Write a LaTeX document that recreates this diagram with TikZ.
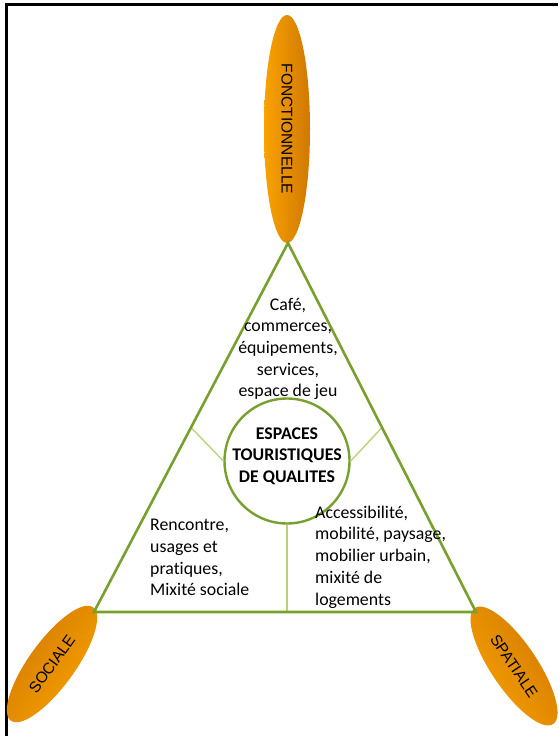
\documentclass[tikz,border=0pt]{standalone}
\usepackage{fontspec}
\setmainfont{Carlito}[Ligatures=NoCommon]
\newfontfamily\arialfont{Liberation Sans}
\usetikzlibrary{shapes.geometric,calc}
\definecolor{trigreen}{HTML}{77A02E}
\definecolor{spokegreen}{HTML}{B9D37A}
\definecolor{petallight}{HTML}{F9A200}
\definecolor{petaldark}{HTML}{D07800}

\begin{document}
\begin{tikzpicture}[x=1pt, y=-1pt,
      petal/.style={ellipse, inner sep=0pt, minimum width=#1, minimum height=46pt,
                    top color=petaldark, bottom color=petallight, draw=none,
                    font=\arialfont\fontsize{15.5}{18}\selectfont},
      txt/.style={inner sep=0pt, font=\fontsize{17.8}{21.7}\selectfont},
      side/.style={draw=trigreen, line width=2.6pt, line join=miter},
      spoke/.style={draw=spokegreen, line width=1.4pt}]
    \useasboundingbox (0,0) rectangle (558,736);
    % frame
    \draw[line width=3pt] (5,4.6) -- (558,4.6);
    \draw[line width=3pt] (6.4,3.1) -- (6.4,736);
    % petals
    \node[petal=228pt, rotate=-90, shading angle=-90] (fonc) at (287,129) {FONCTIONNELLE};
    \node[petal=140pt, rotate=54, shading angle=54] (soc) at (52,664) {SOCIALE};
    \node[petal=140pt, rotate=-56, shading angle=-56] (spat) at (514,666) {SPATIALE};
    % triangle
    \coordinate (apex) at (288,243);
    \coordinate (bl) at (94,612);
    \coordinate (br) at (476,612);
    \node[circle, draw=trigreen, line width=2.4pt, fill=white, minimum size=125pt, inner sep=0pt] (core) at (287,461) {};
    \draw[spoke] ($(apex)!0.5!(bl)$) -- (core.west);
    \draw[spoke] ($(apex)!0.5!(br)$) -- (core.east);
    \draw[spoke] (core.south) -- (core.south |- bl);
    \draw[side] (apex) -- (bl) -- (br) -- cycle;
    % texts
    \node[txt, align=center] (fct) at (288,349) {Café,\\commerces,\\équipements,\\services,\\espace de jeu};
    \node[txt, align=center, font=\bfseries\fontsize{17.8}{21.5}\selectfont] (title) at (287,456) {ESPACES\\TOURISTIQUES\\DE QUALITES};
    \node[txt, align=left, anchor=west] (sct) at (150,557.5) {Rencontre,\\usages et\\pratiques,\\Mixité sociale};
    \node[txt, align=left, anchor=west] (spt) at (315,557) {Accessibilité,\\mobilité, paysage,\\mobilier urbain,\\mixité de\\logements};
  \end{tikzpicture}
\end{document}
